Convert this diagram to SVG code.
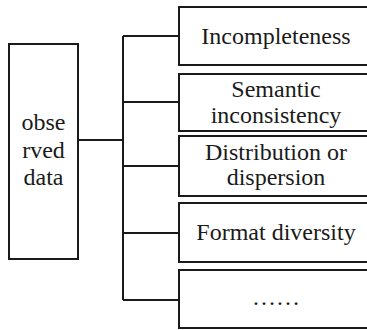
<svg xmlns="http://www.w3.org/2000/svg" width="367" height="330" viewBox="0 0 367 330">
<style>
.box{fill:#fff;stroke:#1a1a1a;stroke-width:2}
.ln{fill:none;stroke:#1a1a1a;stroke-width:2}
.t{font-family:'Liberation Serif','Times New Roman','DejaVu Serif',serif;font-size:24px;fill:#1a1a1a;text-anchor:middle}
</style>
<rect width="367" height="330" fill="#fff"/>
<g id="connectors">
<path class="ln" d="M78 140H123M123 36V300M123 36H179M123 102H179M123 166H179M123 233H179M123 300H179"/>
</g>
<g id="observed-data">
<rect class="box" x="9" y="44" width="69" height="215"/>
<text class="t" x="43.5" y="130">obse</text>
<text class="t" x="43.5" y="157.5">rved</text>
<text class="t" x="43.5" y="185">data</text>
</g>
<g id="incompleteness">
<rect class="box" x="179" y="7" width="196" height="58"/>
<text class="t" x="276" y="44">Incompleteness</text>
</g>
<g id="semantic">
<rect class="box" x="179" y="74" width="196" height="57"/>
<text class="t" x="276" y="97">Semantic</text>
<text class="t" x="276" y="123">inconsistency</text>
</g>
<g id="distribution">
<rect class="box" x="179" y="136" width="196" height="60"/>
<text class="t" x="276" y="160">Distribution or</text>
<text class="t" x="276" y="185">dispersion</text>
</g>
<g id="format">
<rect class="box" x="179" y="203" width="196" height="59"/>
<text class="t" x="276" y="240">Format diversity</text>
</g>
<g id="more">
<rect class="box" x="179" y="270" width="196" height="58"/>
<text class="t" x="276" y="305">……</text>
</g>
</svg>
